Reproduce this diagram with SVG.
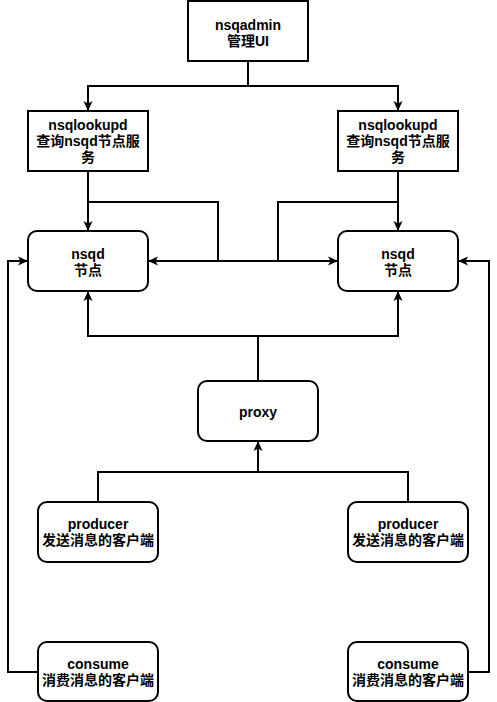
<svg xmlns="http://www.w3.org/2000/svg" width="497" height="702" viewBox="0 0 497 702">
  <defs>
    <marker id="arr" viewBox="0 0 10 10" refX="9" refY="5" markerWidth="10" markerHeight="10" markerUnits="userSpaceOnUse" orient="auto">
      <path d="M0,0.5 L10,5 L0,9.5 L2.5,5 Z" fill="#000"/>
    </marker>
  </defs>
  <style>
    .box { fill: #fff; stroke: #000; stroke-width: 2; }
    .edge { fill: none; stroke: #000; stroke-width: 2; }
    text { font-family: "Liberation Sans", "Noto Sans CJK SC", sans-serif; font-size: 14px; font-weight: bold; text-anchor: middle; fill: #000; }
  </style>
  <rect width="497" height="702" fill="#fff"/>

  <g id="connectors">
    <!-- nsqadmin to both lookupd -->
    <path class="edge" d="M248,61 V86 H88 V110" marker-end="url(#arr)"/>
    <path class="edge" d="M248,86 H398 V110" marker-end="url(#arr)"/>
    <!-- lookupd to nsqd -->
    <path class="edge" d="M88,171 V230" marker-end="url(#arr)"/>
    <path class="edge" d="M398,171 V230" marker-end="url(#arr)"/>
    <path class="edge" d="M88,202 H218 V261 H337" marker-end="url(#arr)"/>
    <path class="edge" d="M398,202 H278 V261 H149" marker-end="url(#arr)"/>
    <!-- proxy to nsqd -->
    <path class="edge" d="M258,381 V336 H88 V292" marker-end="url(#arr)"/>
    <path class="edge" d="M258,336 H398 V292" marker-end="url(#arr)"/>
    <!-- producers to proxy -->
    <path class="edge" d="M98,502 V472 H408 V502"/>
    <path class="edge" d="M258,472 V442" marker-end="url(#arr)"/>
    <!-- consumers to nsqd -->
    <path class="edge" d="M38,672 H8 V261 H27" marker-end="url(#arr)"/>
    <path class="edge" d="M468,672 H489 V261 H459" marker-end="url(#arr)"/>
  </g>

  <g id="nsqadmin">
    <rect class="box" x="188" y="1" width="120" height="60"/>
    <text x="248" y="30">nsqadmin</text>
    <text x="248" y="46">管理UI</text>
  </g>

  <g id="lookupd-left">
    <rect class="box" x="28" y="111" width="120" height="60"/>
    <text x="88" y="130">nsqlookupd</text>
    <text x="88" y="146">查询nsqd节点服</text>
    <text x="88" y="162">务</text>
  </g>

  <g id="lookupd-right">
    <rect class="box" x="338" y="111" width="120" height="60"/>
    <text x="398" y="130">nsqlookupd</text>
    <text x="398" y="146">查询nsqd节点服</text>
    <text x="398" y="162">务</text>
  </g>

  <g id="nsqd-left">
    <rect class="box" x="28" y="231" width="120" height="60" rx="9"/>
    <text x="88" y="259">nsqd</text>
    <text x="88" y="275">节点</text>
  </g>

  <g id="nsqd-right">
    <rect class="box" x="338" y="231" width="120" height="60" rx="9"/>
    <text x="398" y="259">nsqd</text>
    <text x="398" y="275">节点</text>
  </g>

  <g id="proxy">
    <rect class="box" x="198" y="381" width="120" height="60" rx="9"/>
    <text x="258" y="417">proxy</text>
  </g>

  <g id="producer-left">
    <rect class="box" x="38" y="502" width="120" height="60" rx="9"/>
    <text x="98" y="529">producer</text>
    <text x="98" y="545">发送消息的客户端</text>
  </g>

  <g id="producer-right">
    <rect class="box" x="348" y="502" width="120" height="60" rx="9"/>
    <text x="408" y="529">producer</text>
    <text x="408" y="545">发送消息的客户端</text>
  </g>

  <g id="consume-left">
    <rect class="box" x="38" y="642" width="120" height="59" rx="9"/>
    <text x="98" y="669">consume</text>
    <text x="98" y="685">消费消息的客户端</text>
  </g>

  <g id="consume-right">
    <rect class="box" x="348" y="642" width="120" height="59" rx="9"/>
    <text x="408" y="669">consume</text>
    <text x="408" y="685">消费消息的客户端</text>
  </g>
</svg>
